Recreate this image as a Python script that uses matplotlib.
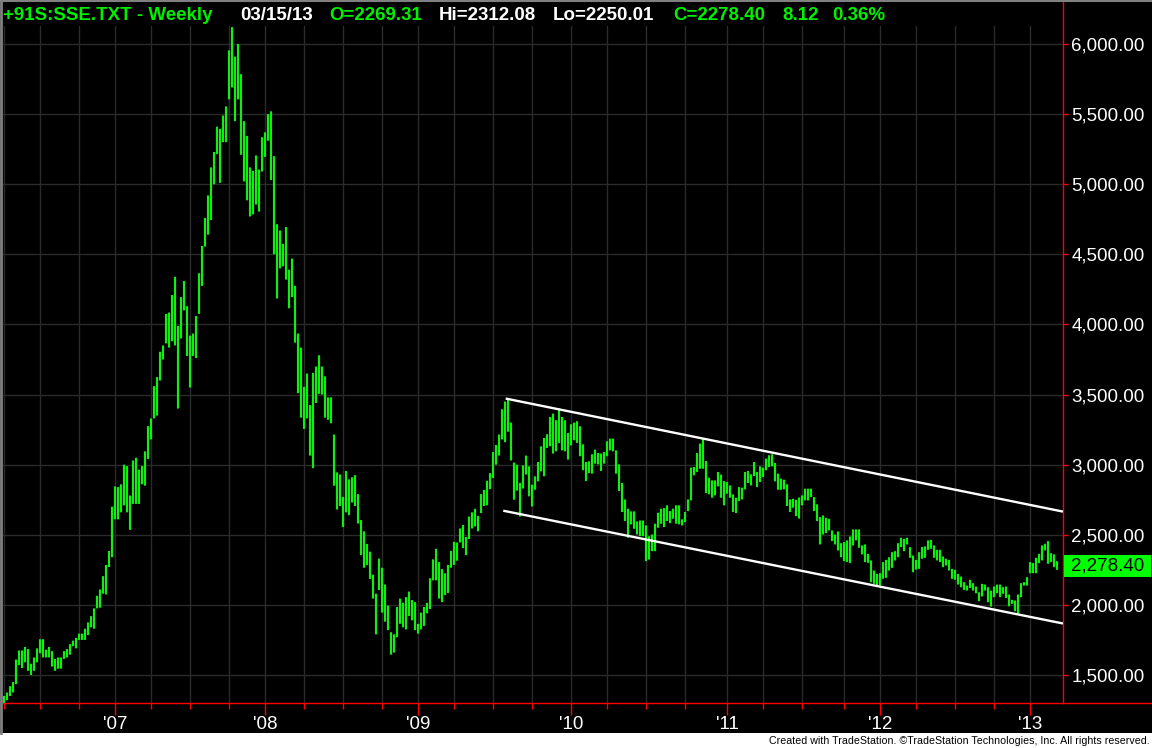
import matplotlib
matplotlib.use('Agg')
import matplotlib.pyplot as plt
import matplotlib.transforms as mtransforms
from matplotlib.patches import Rectangle
from matplotlib.lines import Line2D
import numpy as np

# weekly high / low, Shanghai Composite, Apr 2006 - Mar 2013 (one value per bar)
highs = [
    1350, 1375, 1420, 1450, 1610, 1675, 1675, 1700, 1685, 1580,
    1625, 1690, 1755, 1755, 1680, 1700, 1670, 1615, 1625, 1625,
    1670, 1685, 1720, 1745, 1765, 1795, 1795, 1830, 1875, 1920,
    1975, 2065, 2110, 2205, 2285, 2385, 2700, 2845, 2840, 2860,
    3000, 2990, 2780, 3030, 3050, 2965, 2990, 3095, 3275, 3330,
    3560, 3625, 3805, 3850, 4075, 4085, 4210, 4340, 3990, 4195,
    4310, 4130, 3920, 3935, 4060, 4365, 4560, 4760, 4920, 5120,
    5230, 5410, 5395, 5490, 5555, 5955, 6120, 5910, 6000, 5785,
    5450, 5345, 5120, 5095, 5205, 5105, 5335, 5370, 5500, 5520,
    5200, 4715, 4670, 4575, 4695, 4390, 4470, 4275, 3935, 3835,
    3555, 3650, 3425, 3655, 3700, 3780, 3700, 3630, 3480, 3480,
    3215, 2945, 2930, 2770, 2955, 2895, 2910, 2925, 2790, 2605,
    2525, 2435, 2380, 2215, 2080, 2330, 2265, 2145, 1995, 1805,
    1790, 1985, 2045, 2015, 2055, 2095, 2035, 2020, 1865, 1945,
    1985, 2015, 2190, 2325, 2400, 2305, 2255, 2225, 2285, 2385,
    2450, 2445, 2545, 2570, 2485, 2630, 2660, 2685, 2635, 2790,
    2820, 2885, 2940, 3090, 3140, 3215, 3395, 3450, 3470, 3300,
    3015, 3000, 2870, 2995, 3065, 2988, 2857, 2917, 3019, 3131,
    3190, 3217, 3340, 3364, 3317, 3400, 3340, 3317, 3226, 3288,
    3300, 3310, 3274, 3145, 3019, 3024, 3074, 3107, 3083, 3079,
    3090, 3167, 3186, 3186, 3102, 3002, 2869, 2752, 2686, 2667,
    2667, 2595, 2602, 2602, 2567, 2490, 2502, 2579, 2657, 2686,
    2690, 2710, 2669, 2686, 2710, 2710, 2610, 2662, 2752, 2979,
    2983, 3083, 3150, 3190, 3026, 2907, 2888, 2888, 2948, 2929,
    2883, 2876, 2852, 2788, 2764, 2840, 2836, 2948, 2955, 2931,
    3019, 2948, 2988, 2979, 3043, 3067, 3074, 3012, 2936, 2900,
    2893, 2860, 2752, 2757, 2750, 2766, 2781, 2829, 2829, 2829,
    2769, 2717, 2626, 2638, 2621, 2614, 2531, 2502, 2524, 2440,
    2448, 2460, 2488, 2538, 2538, 2538, 2424, 2431, 2364, 2317,
    2245, 2221, 2226, 2305, 2321, 2340, 2376, 2383, 2440, 2479,
    2471, 2479, 2412, 2352, 2321, 2376, 2412, 2417, 2460, 2464,
    2424, 2393, 2393, 2345, 2329, 2321, 2257, 2250, 2221, 2202,
    2162, 2138, 2179, 2155, 2131, 2090, 2150, 2145, 2126, 2102,
    2131, 2145, 2145, 2126, 2131, 2074, 2036, 2031, 2074, 2155,
    2162, 2198, 2305, 2298, 2336, 2364, 2424, 2436, 2455, 2369,
    2360, 2312.08,
]
lows = [
    1300, 1320, 1350, 1375, 1435, 1570, 1550, 1590, 1530, 1500,
    1530, 1590, 1655, 1625, 1625, 1625, 1560, 1530, 1545, 1545,
    1615, 1625, 1645, 1705, 1690, 1750, 1750, 1750, 1785, 1840,
    1830, 1975, 1980, 2080, 2075, 2270, 2340, 2610, 2610, 2660,
    2710, 2660, 2535, 2720, 2720, 2720, 2860, 2850, 3040, 3180,
    3330, 3350, 3600, 3750, 3865, 3835, 3880, 3850, 3400, 3900,
    4100, 3775, 3550, 3775, 3760, 4075, 4275, 4555, 4640, 4745,
    5000, 5215, 5010, 5300, 5300, 5605, 5690, 5450, 5605, 5210,
    5020, 4885, 4770, 4785, 4855, 4805, 5090, 5195, 5310, 5030,
    4500, 4185, 4400, 4415, 4320, 4115, 4195, 3870, 3510, 3335,
    3255, 3330, 3065, 2975, 3440, 3505, 3500, 3335, 3320, 3295,
    2850, 2680, 2705, 2555, 2660, 2640, 2730, 2705, 2580, 2355,
    2265, 2285, 2185, 2045, 1790, 2105, 1945, 1880, 1820, 1645,
    1660, 1770, 1865, 1840, 1825, 1920, 1890, 1820, 1795, 1825,
    1850, 1940, 1970, 2175, 2175, 2045, 2020, 2070, 2085, 2265,
    2285, 2315, 2445, 2405, 2355, 2470, 2545, 2560, 2525, 2655,
    2705, 2710, 2825, 2905, 3000, 3065, 3180, 3160, 3235, 3030,
    2750, 2815, 2630, 2830, 2930, 2774, 2702, 2821, 2881, 2952,
    2917, 3119, 3131, 3079, 3095, 3155, 3102, 3095, 3036, 3138,
    3174, 3155, 3060, 2960, 2883, 2940, 2936, 3007, 3002, 2955,
    3007, 3060, 3102, 3095, 2936, 2812, 2662, 2598, 2479, 2574,
    2543, 2502, 2490, 2490, 2312, 2324, 2383, 2383, 2550, 2579,
    2555, 2598, 2583, 2614, 2579, 2574, 2567, 2590, 2669, 2745,
    2924, 2948, 2971, 2971, 2798, 2788, 2764, 2781, 2845, 2764,
    2710, 2793, 2764, 2662, 2655, 2740, 2752, 2824, 2869, 2852,
    2919, 2840, 2876, 2912, 2960, 2983, 2988, 2881, 2821, 2821,
    2824, 2705, 2662, 2693, 2633, 2615, 2710, 2745, 2745, 2769,
    2669, 2598, 2431, 2502, 2512, 2531, 2455, 2431, 2388, 2340,
    2312, 2305, 2298, 2424, 2460, 2407, 2360, 2305, 2300, 2162,
    2150, 2131, 2138, 2186, 2193, 2245, 2264, 2317, 2340, 2412,
    2383, 2431, 2336, 2233, 2252, 2257, 2329, 2336, 2393, 2400,
    2336, 2317, 2305, 2269, 2281, 2245, 2186, 2179, 2145, 2126,
    2107, 2102, 2121, 2102, 2083, 2026, 2060, 2102, 2019, 1988,
    2055, 2083, 2055, 2079, 2050, 1990, 2007, 1955, 1936, 2055,
    2138, 2138, 2226, 2226, 2226, 2298, 2317, 2388, 2293, 2305,
    2269, 2250.01,
]

last_open = 2269.31
last_close = 2278.40
last_change = 8.12
last_change_pct = 0.36

# first bar of each year and of each quarter (bar numbers)
year_labels = ["'07", "'08", "'09", "'10", "'11", "'12", "'13"]
year_bars = [37, 87, 138, 189, 241, 292, 342]
quarter_bars = [0, 12, 25, 49, 62, 75, 100, 113, 126, 150, 163, 176,
                201, 214, 227, 253, 266, 280, 304, 317, 330]
price_ticks = [1500, 2000, 2500, 3000, 3500, 4000, 4500, 5000, 5500, 6000]

# channel drawn on the chart: (bar, price) end points
upper_channel = ([167.6, 352.6], [3470, 2667])
lower_channel = ([166.8, 352.6], [2670, 1869])

W, H = 1152, 748
bar_green = '#10F010'
text_green = '#00F000'
red = '#FF0000'
grid_gray = '#2A2A2A'
font = 'Liberation Sans'

fig = plt.figure(figsize=(W / 100, H / 100), dpi=100, facecolor='black')

# plot area in pixels: x 3..1063, y 2..703
ax_left, ax_right, ax_top, ax_bottom = 3, 1063, 2, 703
ax = fig.add_axes([ax_left / W, (H - ax_bottom) / H,
                   (ax_right - ax_left) / W, (ax_bottom - ax_top) / H])
ax.set_facecolor('black')

px_per_500 = 70.11
ax.set_ylim(1500 - (ax_bottom - 675) / px_per_500 * 500,
            6000 + (44 - ax_top) / px_per_500 * 500)
# 3 px per weekly bar, bar 0 centred on pixel boundary x = 4
ax.set_xlim(-1 / 3, (ax_right - ax_left) / 3 - 1 / 3)

idx = np.arange(len(highs))
hi = np.array(highs)
lo = np.array(lows)
ax.bar(idx, hi - lo, bottom=lo, width=0.72, color=bar_green,
       linewidth=0, antialiased=True, snap=False, zorder=3)

ax.plot(upper_channel[0], upper_channel[1], color='white', lw=1.7, zorder=4)
ax.plot(lower_channel[0], lower_channel[1], color='white', lw=1.7, zorder=4)

# axes ticks
ax.set_xticks(year_bars)
ax.set_xticklabels(year_labels)
ax.set_xticks(quarter_bars, minor=True)
ax.set_yticks(price_ticks)
ax.set_yticklabels([f'{p:,.2f}' for p in price_ticks])
ax.yaxis.tick_right()

ax.tick_params(axis='x', which='major', colors=red, labelcolor='white',
               length=8.6, width=1, pad=0.5, labelsize=13.5)
ax.tick_params(axis='x', which='minor', colors=red, length=4.3, width=1)
ax.tick_params(axis='y', colors=red, labelcolor='white', length=3.6,
               width=1, pad=2.5, labelsize=13.5)
for lab in ax.get_xticklabels() + ax.get_yticklabels():
    lab.set_family(font)

ax.grid(True, which='both', color=grid_gray, linewidth=1)
ax.set_axisbelow(True)

for side in ['top', 'left']:
    ax.spines[side].set_visible(False)
ax.spines['right'].set_color(red)
ax.spines['bottom'].set_color(red)
ax.spines['right'].set_linewidth(1)
ax.spines['bottom'].set_linewidth(1)

# black band behind the title line
ax.add_patch(Rectangle((0, (ax_bottom - 26) / (ax_bottom - ax_top)), 1, 1,
                       transform=ax.transAxes, facecolor='black',
                       edgecolor='none', zorder=1))

# last price marker on the price scale
trans = mtransforms.blended_transform_factory(ax.transAxes, ax.transData)
box_h = 11 / px_per_500 * 500
ax.add_patch(Rectangle((1 + 1 / 1060, last_close - box_h), 87 / 1060, 2 * box_h,
                       transform=trans, facecolor='#00FF00', edgecolor='none',
                       clip_on=False, zorder=5))
ax.text(1 + 8 / 1060, last_close, f'{last_close:,.2f}', transform=trans,
        ha='left', va='center', color='black', fontsize=13.5,
        family=font, zorder=6)

# red bottom rule continues under the price scale
fig.add_artist(Line2D([ax_right / W, 1], [(H - ax_bottom) / H] * 2,
                      color=red, lw=1))

# title line
title_parts = [
    ('+91S:SSE.TXT - Weekly', text_green, 3),
    ('03/15/13', 'white', 240),
    (f'O={last_open:.2f}', text_green, 329),
    (f'Hi={highs[-1]:.2f}', 'white', 439),
    (f'Lo={lows[-1]:.2f}', 'white', 553),
    (f'C={last_close:.2f}', text_green, 673),
    (f'{last_change:.2f}', text_green, 782),
    (f'{last_change_pct:.2f}%', text_green, 832),
]
for txt, col, xpx in title_parts:
    fig.text(xpx / W, 1 - 20.5 / H, txt, color=col, fontsize=13.5,
             fontweight='bold', family=font, va='baseline')

# frame bits and footer
fig.add_artist(Line2D([0, 1], [1 - 0.5 / H] * 2, color='#808080', lw=1.5))
fig.add_artist(Line2D([1 / W] * 2, [15 / H, 1], color='#808080', lw=2))
fig.add_artist(Rectangle((0, 0), 1, 15 / H, transform=fig.transFigure,
                         facecolor='white', edgecolor='none'))
fig.text(1150 / W, 3.5 / H,
         'Created with TradeStation. \u00a9TradeStation Technologies, Inc. All rights reserved.',
         color='black', fontsize=7.7, family=font, ha='right',
         va='baseline')

fig.savefig('out.png', dpi=100, facecolor='black')
